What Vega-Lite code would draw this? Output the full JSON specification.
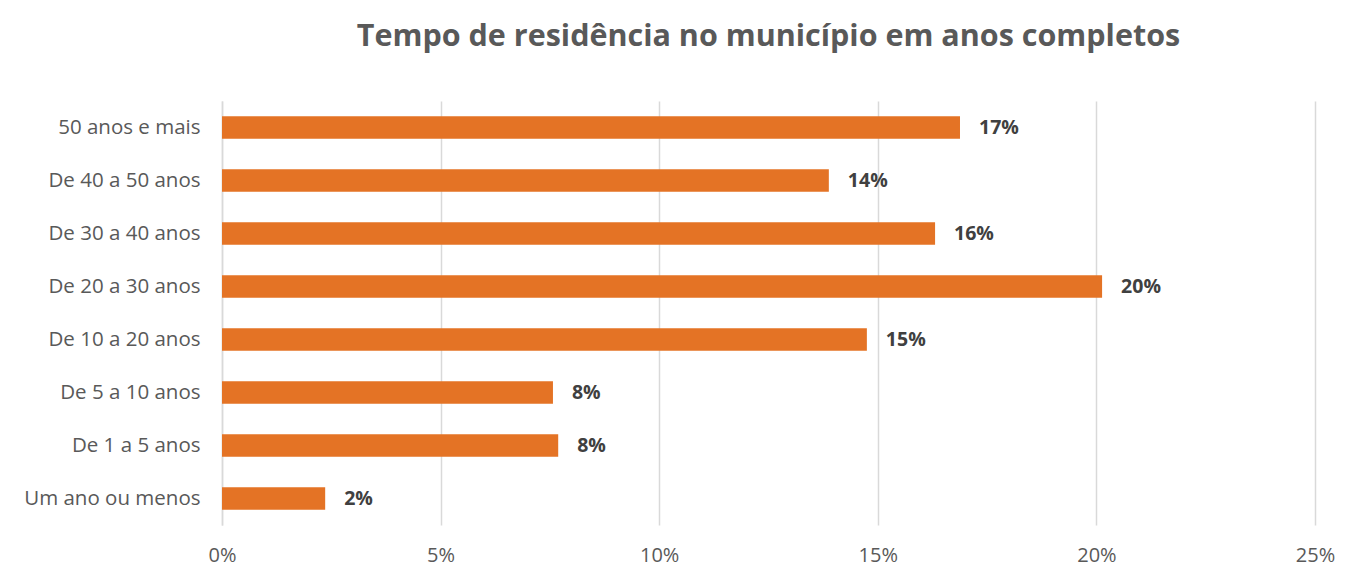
{
  "$schema": "https://vega.github.io/schema/vega-lite/v6.json",
  "width": 1093,
  "height": 424,
  "autosize": {"type": "none"},
  "padding": {"left": 222, "top": 101, "right": 32, "bottom": 54},
  "background": "white",
  "title": {
    "text": "Tempo de residência no município em anos completos",
    "font": "Open Sans",
    "fontSize": 30.5,
    "fontWeight": "bold",
    "color": "#595959",
    "anchor": "middle",
    "offset": 49
  },
  "data": {
    "values": [
      {"cat": "50 anos e mais", "v": 16.88, "label": "17%"},
      {"cat": "De 40 a 50 anos", "v": 13.88, "label": "14%"},
      {"cat": "De 30 a 40 anos", "v": 16.31, "label": "16%"},
      {"cat": "De 20 a 30 anos", "v": 20.13, "label": "20%"},
      {"cat": "De 10 a 20 anos", "v": 14.75, "label": "15%"},
      {"cat": "De 5 a 10 anos", "v": 7.57, "label": "8%"},
      {"cat": "De 1 a 5 anos", "v": 7.69, "label": "8%"},
      {"cat": "Um ano ou menos", "v": 2.36, "label": "2%"}
    ]
  },
  "encoding": {
    "y": {
      "field": "cat",
      "type": "nominal",
      "sort": null,
      "scale": {"paddingInner": 0.58, "paddingOuter": 0.29},
      "axis": {
        "title": null,
        "labelFont": "Open Sans",
        "labelFontSize": 20.5,
        "labelColor": "#595959",
        "labelPadding": 22,
        "ticks": false,
        "domainColor": "#D9D9D9",
        "domainWidth": 1.5,
        "grid": false
      }
    },
    "x": {
      "field": "v",
      "type": "quantitative",
      "scale": {"domain": [0, 25], "nice": false},
      "axis": {
        "title": null,
        "values": [0, 5, 10, 15, 20, 25],
        "labelExpr": "datum.value + '%'",
        "labelFont": "Open Sans",
        "labelFontSize": 20,
        "labelColor": "#595959",
        "labelPadding": 20,
        "labelFlush": false,
        "ticks": false,
        "domain": false,
        "grid": true,
        "gridColor": "#D9D9D9",
        "gridWidth": 1.5
      }
    }
  },
  "layer": [
    {"mark": {"type": "bar", "color": "#E47325"}},
    {
      "mark": {
        "type": "text",
        "align": "left",
        "baseline": "middle",
        "dx": 19,
        "font": "Open Sans",
        "fontSize": 19.5,
        "fontWeight": "bold",
        "color": "#404040"
      },
      "encoding": {"text": {"field": "label"}}
    }
  ],
  "config": {"view": {"stroke": null}}
}
